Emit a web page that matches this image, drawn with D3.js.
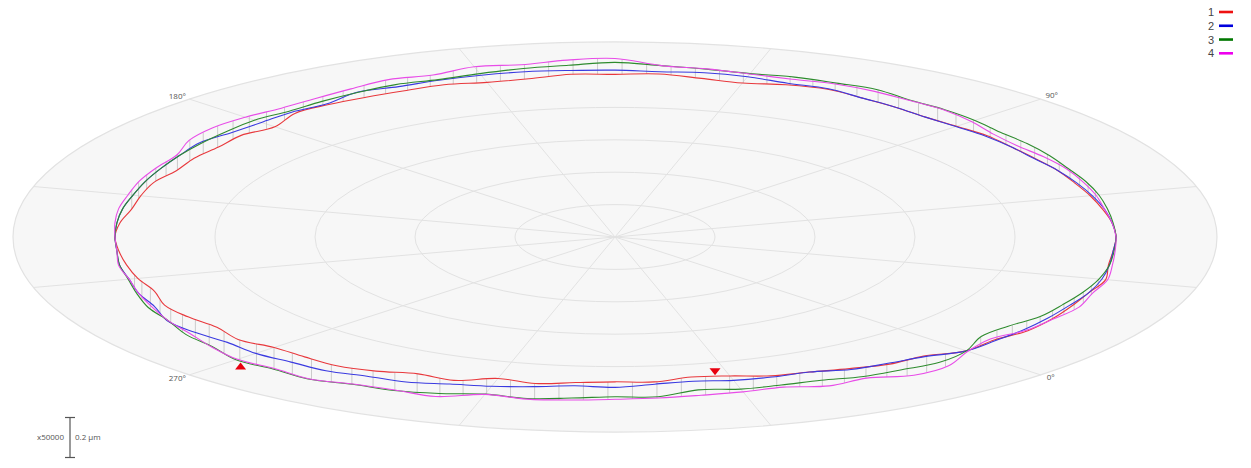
<!DOCTYPE html>
<html><head><meta charset="utf-8">
<script src="https://cdn.jsdelivr.net/npm/d3@7/dist/d3.min.js"></script>
<style>html,body{margin:0;padding:0;background:#fff}svg{display:block}text{font-family:"Open Sans","DejaVu Sans",sans-serif;fill:#555}</style>
</head><body><div id="c"></div>
<script>
const seriesNames = ["1","2","3","4"];
const seriesColors = ["#e8383c","#3a3ae0","#2e8b2e","#e84ce8"];
const legendColors = ["#ee1111","#0000dd","#007700","#ee00ee"];
const angleStep = 5; // degrees between samples, starting at 0°
const s1 = [497,495,504,505,504,504,508,501,500,501,499,495,492,489,488,485,484,486,483,483,489,495,503,500,492,497,505,502,504,496,494,500,498,498,499,498,481,488,484,486,484,491,491,491,497,500,498,496,494,490,497,493,486,492,482,483,485,478,466,471,452,459,451,447,449,439,444,456,460,469,479,480];
const s2 = [497,497,499,500,501,504,504,502,500,501,499,497,494,491,488,484,484,484,482,483,489,495,505,505,512,515,512,515,516,518,517,515,512,516,502,503,500,501,507,503,501,500,499,500,500,500,500,503,503,507,508,517,513,506,508,504,504,496,494,483,477,469,461,464,456,452,458,460,460,472,476,482];
const s3 = [497,478,480,491,494,498,501,502,501,501,500,500,501,501,500,502,503,503,509,513,515,525,524,525,522,526,531,539,532,528,522,517,519,515,511,507,510,507,505,503,501,500,499,500,500,500,500,503,504,509,515,516,524,526,536,532,535,525,523,514,502,506,499,493,495,479,486,486,488,497,500,505];
const s4 = [499,490,502,506,512,508,510,505,502,501,499,497,498,498,498,495,491,494,504,512,514,519,521,518,521,527,531,551,548,540,544,532,536,528,522,519,523,525,520,506,506,506,504,504,502,500,500,504,503,507,511,516,519,527,534,530,534,524,521,524,503,508,505,501,499,496,495,493,507,503,521,519];
const allSeries = [s1,s2,s3,s4];
const ringValues = [100,200,300,400,602];
const spokeAngles = [0,30,60,90,120,150,180,210,240,270,300,330];
const angleLabels = ["0°","90°","180°","270°"];
const labelAngles = [0,90,180,270];
const markerUp = {theta:271, r:539};
const markerDown = {theta:328.2, r:438};

const W=1251,H=468,cx=615,cy=237,tilt=0.324,zeroOffset=-45;
const rScale=d3.scaleLinear().domain([0,602]).range([0,602]);
const px=(theta,r)=>cx+rScale(r)*Math.cos((theta+zeroOffset)*Math.PI/180);
const py=(theta,r)=>cy-tilt*rScale(r)*Math.sin((theta+zeroOffset)*Math.PI/180);
const svg=d3.select("#c").append("svg").attr("width",W).attr("height",H);

// polar grid
const outer=ringValues[ringValues.length-1];
svg.append("ellipse").attr("cx",cx).attr("cy",cy).attr("rx",rScale(outer)).attr("ry",rScale(outer)*tilt)
  .attr("fill","#f7f7f7").attr("stroke","#e2e2e2").attr("stroke-width",1.2);
svg.selectAll(".ring").data(ringValues.slice(0,-1)).join("ellipse").attr("cx",cx).attr("cy",cy)
  .attr("rx",d=>rScale(d)).attr("ry",d=>rScale(d)*tilt).attr("fill","none").attr("stroke","#e2e2e2").attr("stroke-width",1);
svg.selectAll(".spoke").data(spokeAngles).join("line")
  .attr("x1",cx).attr("y1",cy).attr("x2",d=>px(d,outer)).attr("y2",d=>py(d,outer))
  .attr("stroke","#e2e2e2").attr("stroke-width",1);
const labelOff={0:[10,2],90:[11,-4],180:[-12,-3],270:[-12,3]};
svg.selectAll(".alab").data(labelAngles).join("text")
  .attr("x",d=>px(d,outer)+labelOff[d][0]).attr("y",d=>py(d,outer)+labelOff[d][1]+3)
  .attr("text-anchor","middle").attr("font-size",8).text((d,i)=>angleLabels[i]);

// vertical hatch between the series: each line stands on one x and joins the outermost crossings
const valueAt=(arr,theta)=>{const t=((theta%360)+360)%360/angleStep,i=Math.floor(t)%arr.length,j=(i+1)%arr.length;return d3.interpolateNumber(arr[i],arr[j])(t-Math.floor(t));};
const hatchAngles=d3.range(2,360,360/128);
const crossY=(arr,t,x0)=>{
  for(let d=0;d<=18;d+=0.25){for(const s of [1,-1]){
    const a=t+s*d,b=a+s*0.25;
    const xa=px(a,valueAt(arr,a)),xb=px(b,valueAt(arr,b));
    if((xa-x0)*(xb-x0)<=0&&xa!==xb){const f=(x0-xa)/(xb-xa);const ya=py(a,valueAt(arr,a)),yb=py(b,valueAt(arr,b));return ya+f*(yb-ya);}
  }}
  return null;
};
const hatch=hatchAngles.map(t=>{const x=px(t,500);const ys=allSeries.map(a=>crossY(a,t,x));
  return ys.some(y=>y===null)?null:{x,y1:d3.min(ys),y2:d3.max(ys)};}).filter(d=>d&&d.y2-d.y1>=5.5&&Math.abs(d.x-cx)<484);
svg.selectAll(".hatch").data(hatch).join("line")
  .attr("x1",d=>d.x).attr("x2",d=>d.x).attr("y1",d=>d.y1).attr("y2",d=>d.y2)
  .attr("stroke","#cbcbcb").attr("stroke-width",1);

// series
const line=d3.line().x((d,i)=>px(i*angleStep,d)).y((d,i)=>py(i*angleStep,d)).curve(d3.curveCatmullRomClosed.alpha(0.5));
svg.selectAll(".curve").data(allSeries).join("path").attr("d",line).attr("fill","none")
  .attr("stroke",(d,i)=>seriesColors[i]).attr("stroke-width",1.1);

// extreme markers
const tri=(x,y,dir)=>`M${x},${y}L${x-5.5},${y+dir*7}L${x+5.5},${y+dir*7}Z`;
svg.append("path").attr("d",tri(px(markerUp.theta,markerUp.r),py(markerUp.theta,markerUp.r),1)).attr("fill","#e8000f");
svg.append("path").attr("d",tri(px(markerDown.theta,markerDown.r),py(markerDown.theta,markerDown.r),-1)).attr("fill","#e8000f");

// legend
const ly=d3.scalePoint().domain(seriesNames).range([12,53.3]);
const lg=svg.selectAll(".lg").data(seriesNames).join("g");
lg.append("text").attr("x",1214).attr("y",d=>ly(d)+4).attr("text-anchor","end").attr("font-size",11).style("font-family","'Liberation Sans',sans-serif").style("fill","#444").text(d=>d);
lg.append("line").attr("x1",1219).attr("x2",1233).attr("y1",d=>ly(d)).attr("y2",d=>ly(d)).attr("stroke",(d,i)=>legendColors[i]).attr("stroke-width",2.6);

// scale bar
const bar=svg.append("g").attr("stroke","#555").attr("stroke-width",1.2);
bar.append("line").attr("x1",70).attr("x2",70).attr("y1",417).attr("y2",457.5);
bar.append("line").attr("x1",65).attr("x2",75).attr("y1",417.5).attr("y2",417.5);
bar.append("line").attr("x1",65).attr("x2",75).attr("y1",457.5).attr("y2",457.5);
svg.append("text").attr("x",64).attr("y",440).attr("text-anchor","end").attr("font-size",8).text("x50000");
svg.append("text").attr("x",75).attr("y",440).attr("font-size",8).text("0.2 µm");
</script></body></html>
